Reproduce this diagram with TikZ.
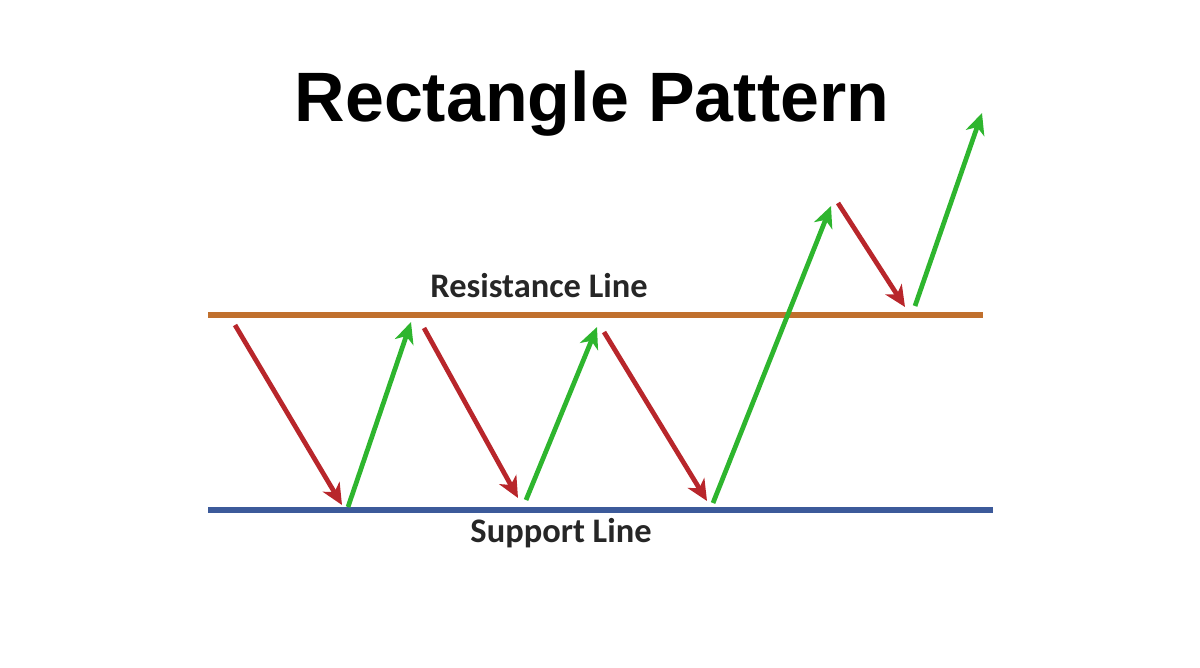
\documentclass[tikz,border=0pt]{standalone}
\usepackage{fontspec}
\setmainfont{Liberation Sans}
\newfontfamily\lblfont{Carlito}
\usetikzlibrary{arrows.meta}
\definecolor{resist}{HTML}{C0702E}
\definecolor{supp}{HTML}{3C5A9A}
\definecolor{downred}{HTML}{B8262B}
\definecolor{upgreen}{HTML}{2EB52E}
\tikzset{
  px/.style={x=0.02cm,y=-0.02cm},
  level/.style={line width=3pt},
  move/.style={line width=2.7pt,-{Stealth[length=12pt,width=11pt,inset=3.5pt]}},
  down/.style={move,draw=downred,fill=downred},
  up/.style={move,draw=upgreen,fill=upgreen},
  lbl/.style={font=\lblfont\bfseries\fontsize{19.6}{22}\selectfont,text=black!85,inner sep=0pt},
}
\begin{document}
\begin{tikzpicture}[px]
\useasboundingbox (0,0) rectangle (1200,667);
\node[font=\bfseries\fontsize{39.8}{44}\selectfont,inner sep=0pt] (title) at (592,104) {Rectangle Pattern};
\coordinate (rl) at (208,315); \coordinate (rr) at (983,315);
\coordinate (sl) at (208,510); \coordinate (sr) at (993,510);
\draw[level,draw=resist] (rl) -- (rr);
\draw[level,draw=supp] (sl) -- (sr);
\node[lbl,anchor=base] (rlab) at (539,297) {Resistance Line};
\node[lbl,anchor=base] (slab) at (561,542) {Support Line};
\coordinate (a0) at (235,325); \coordinate (a1) at (342,505);
\coordinate (b0) at (348,507); \coordinate (b1) at (411,322);
\coordinate (c0) at (424,328); \coordinate (c1) at (518,498);
\coordinate (d0) at (526,500); \coordinate (d1) at (597,327);
\coordinate (e0) at (604,332); \coordinate (e1) at (707,501);
\coordinate (f0) at (713,503); \coordinate (f1) at (831,206);
\coordinate (g0) at (838,203); \coordinate (g1) at (905,307);
\coordinate (h0) at (915,306); \coordinate (h1) at (982,113);
\draw[down] (a0) -- (a1);
\draw[up] (b0) -- (b1);
\draw[down] (c0) -- (c1);
\draw[up] (d0) -- (d1);
\draw[down] (e0) -- (e1);
\draw[up] (f0) -- (f1);
\draw[down] (g0) -- (g1);
\draw[up] (h0) -- (h1);
\end{tikzpicture}
\end{document}
